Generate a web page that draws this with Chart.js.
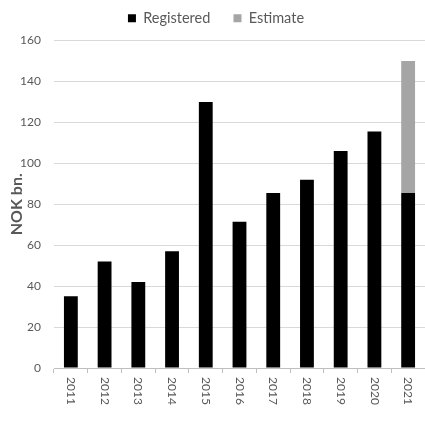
<!DOCTYPE html>
<html>
<head>
<meta charset="utf-8">
<script src="https://cdn.jsdelivr.net/npm/chart.js@4"></script>
<style>
  body { margin: 0; background: #fff; }
  #wrap { width: 425px; height: 423px; position: relative; }
</style>
</head>
<body>
<div id="wrap"><canvas id="nokChart"></canvas></div>
<script>
const years = ['2011', '2012', '2013', '2014', '2015', '2016', '2017', '2018', '2019', '2020', '2021'];
const registered = [35, 52, 42, 57, 130, 71.5, 85.5, 92, 106, 115.5, 85.5];
const estimate = [null, null, null, null, null, null, null, null, null, null, 64.5];
const yTicks = [0, 20, 40, 60, 80, 100, 120, 140, 160];

const textColor = '#595959';
const fontFamily = 'Lato, "Open Sans", sans-serif';

// x labels read top-to-bottom (rotated clockwise), which Chart.js can't do itself
const xLabelPlugin = {
    id: 'xLabels',
    afterDraw(chart) {
        const xs = chart.scales.x;
        const ctx = chart.ctx;
        ctx.save();
        ctx.font = '12px ' + fontFamily;
        ctx.fillStyle = textColor;
        ctx.textAlign = 'left';
        ctx.textBaseline = 'middle';
        years.forEach((yr, i) => {
            ctx.save();
            ctx.translate(xs.getPixelForTick(i), xs.top + 9);
            ctx.rotate(Math.PI / 2);
            ctx.fillText(yr, 0, 0);
            ctx.restore();
        });
        ctx.restore();
    }
};

const ctx = document.getElementById('nokChart').getContext('2d');
const nokChart = new Chart(ctx, {
    type: 'bar',
    data: {
        labels: years,
        datasets: [
            {
                label: 'Registered',
                data: registered,
                backgroundColor: '#000000',
                barPercentage: 0.41,
                categoryPercentage: 1
            },
            {
                label: 'Estimate',
                data: estimate,
                backgroundColor: '#a5a5a5',
                barPercentage: 0.41,
                categoryPercentage: 1
            }
        ]
    },
    options: {
        responsive: true,
        maintainAspectRatio: false,
        animation: false,
        layout: { padding: { top: -1, right: 0, bottom: 0, left: 7 } },
        plugins: {
            legend: {
                position: 'top',
                labels: {
                    color: textColor,
                    font: { family: fontFamily, size: 14.5 },
                    boxWidth: 8,
                    boxHeight: 8,
                    padding: 12,
                    generateLabels(chart) {
                        const items = Chart.defaults.plugins.legend.labels.generateLabels(chart);
                        items[0].text = items[0].text + '   ';
                        items.forEach(it => { it.lineWidth = 0; });
                        return items;
                    }
                }
            },
            // empty spacer box between legend and plot
            subtitle: {
                display: true,
                text: '',
                weight: 500,
                padding: 0,
                font: { size: 5, lineHeight: 1 }
            },
            tooltip: { enabled: false }
        },
        scales: {
            x: {
                stacked: true,
                grid: {
                    offset: true,
                    drawOnChartArea: false,
                    drawTicks: true,
                    tickLength: 5,
                    color: '#bfbfbf'
                },
                border: { display: true, color: '#bfbfbf' },
                ticks: { display: false },
                afterFit(scale) { scale.height = 55; }
            },
            y: {
                stacked: true,
                min: 0,
                max: 160,
                afterBuildTicks(scale) { scale.ticks = yTicks.map(v => ({ value: v })); },
                grid: { color: '#d9d9d9', drawTicks: false },
                border: { display: false },
                ticks: {
                    color: textColor,
                    font: { family: fontFamily, size: 12 },
                    padding: 13
                },
                title: {
                    display: true,
                    text: 'NOK bn.',
                    color: textColor,
                    font: { family: fontFamily, size: 16, weight: 'bold' },
                    padding: { top: 0, bottom: 0 }
                },
                afterFit(scale) { scale.width = 47; }
            }
        }
    },
    plugins: [xLabelPlugin]
});
</script>
</body>
</html>
